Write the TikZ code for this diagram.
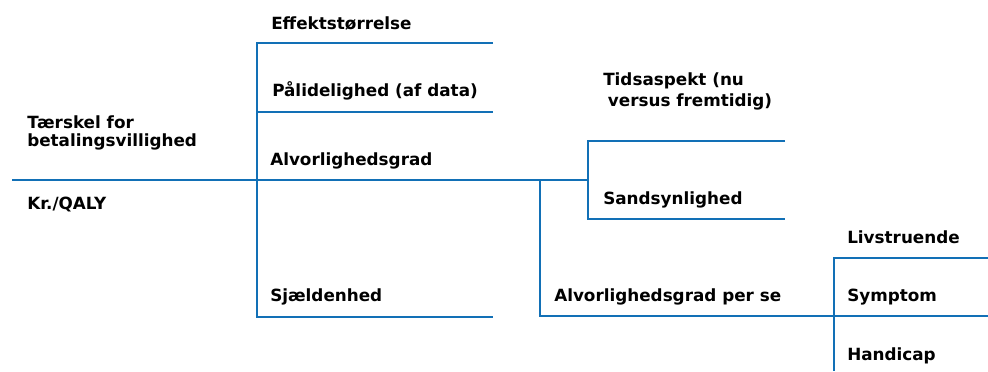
\documentclass[tikz,border=0pt]{standalone}
\usepackage{fontspec}
\setmainfont{DejaVu Sans}
\usepackage{tikz}
\usetikzlibrary{calc}
\definecolor{treeblue}{RGB}{18,112,182}
\tikzset{
  branch/.style={draw=treeblue, line width=1.9pt},
  lbl/.style={anchor=base west, inner sep=0pt, align=left, font=\bfseries\fontsize{12.6}{15.75}\selectfont}
}

\begin{document}
\begin{tikzpicture}[x=0.75pt,y=0.75pt,yscale=-1,xscale=1]
\useasboundingbox (0,0) rectangle (988,371);

% Coordinates
\coordinate (rootL) at (12,180);
\coordinate (rootR) at (588,180);
\coordinate (aTop) at (257,43);
\coordinate (aMid) at (257,112);
\coordinate (aJoin) at (257,180);
\coordinate (aBot) at (257,317);
\coordinate (aTopR) at (493,43);
\coordinate (aMidR) at (493,112);
\coordinate (aBotR) at (493,317);
\coordinate (bJoin) at (540,180);
\coordinate (bBot) at (540,316);
\coordinate (bBotR) at (988,316);
\coordinate (cTop) at (588,141);
\coordinate (cBot) at (588,219);
\coordinate (cTopR) at (785,141);
\coordinate (cBotR) at (785,219);
\coordinate (dTop) at (834,258);
\coordinate (dBot) at (834,371);
\coordinate (dTopR) at (988,258);

%Straight Lines [main]
\draw [branch] (rootL) -- (rootR) ;
%Straight Lines [first fork]
\draw [branch] (aTopR) -- (aTop) -- (aBot) -- (aBotR) ;
\draw [branch] (aMid) -- (aMidR) ;
%Straight Lines [second fork]
\draw [branch] (bJoin) -- (bBot) -- (bBotR) ;
%Straight Lines [third fork]
\draw [branch] (cTopR) -- (cTop) -- (cBot) -- (cBotR) ;
%Straight Lines [fourth fork]
\draw [branch] (dTopR) -- (dTop) -- (dBot) ;

% Text Node
\node [lbl, font=\bfseries\fontsize{12.6}{13.5}\selectfont] (taerskel) at (27,146) {Tærskel for\\betalingsvillighed};
% Text Node
\node [lbl] (kr) at (27,209) {Kr./QALY};
% Text Node
\node [lbl] (effekt) at (271,29) {Effektstørrelse};
% Text Node
\node [lbl] (paalid) at (272,96) {Pålidelighed (af data)};
% Text Node
\node [lbl] (alvor) at (270,165) {Alvorlighedsgrad};
% Text Node
\node [lbl] (sjaeld) at (270,301) {Sjældenhed};
% Text Node
\node [lbl] (tids) at (603,106) {Tidsaspekt (nu\\\hspace*{3.5pt}versus fremtidig)};
% Text Node
\node [lbl] (sands) at (603,204) {Sandsynlighed};
% Text Node
\node [lbl] (alvorse) at (554,301) {Alvorlighedsgrad per se};
% Text Node
\node [lbl] (livs) at (847,243) {Livstruende};
% Text Node
\node [lbl] (sympt) at (847,301) {Symptom};
% Text Node
\node [lbl] (handi) at (847,360) {Handicap};
\end{tikzpicture}
\end{document}
